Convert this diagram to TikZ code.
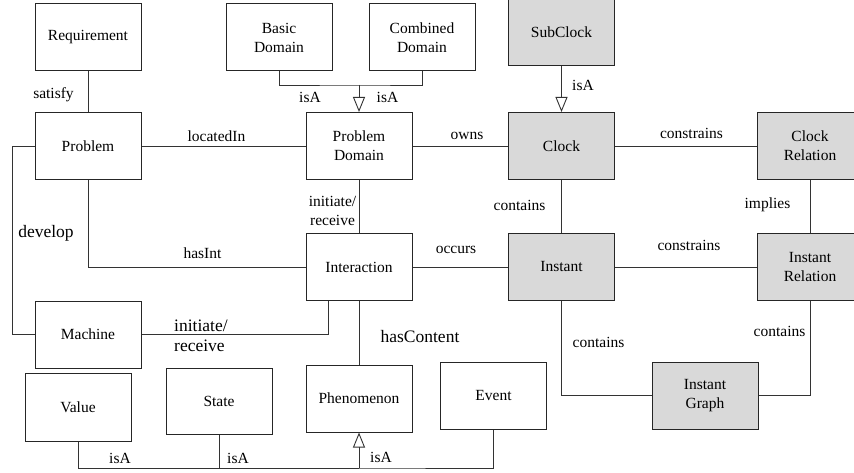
\documentclass[tikz,border=0pt]{standalone}
\usepackage{fontspec}
\setmainfont{Liberation Serif}
\usetikzlibrary{arrows.meta}
\definecolor{boxgray}{HTML}{D9D9D9}
\begin{document}
\begin{tikzpicture}[x=1pt,y=-1pt,
  every node/.style={font=\fontsize{15.5}{19}\selectfont},
  box/.style={draw=black!85,line width=1pt,minimum width=106pt,minimum height=67pt,inner sep=0pt,align=center,fill=white},
  gbox/.style={box,fill=boxgray},
  conn/.style={draw=black!80,line width=0.9pt},
  isa/.style={conn,-{Triangle[open,length=15pt,width=12pt]}},
  lbl/.style={inner sep=0pt,align=center},
  biglbl/.style={lbl,font=\fontsize{17.5}{20}\selectfont}]
\clip (0,0) rectangle (854,473);
\fill[white] (0,0) rectangle (854,473);
% boxes
\node[box] (Req) at (88,37.5) {Requirement};
\node[box] (Prob) at (88,146) {Problem};
\node[box] (Basic) at (279,37.5) {Basic\\Domain};
\node[box] (Comb) at (422,37.5) {Combined\\Domain};
\node[box] (PD) at (359,146) {Problem\\Domain};
\node[gbox] (Sub) at (561.5,32) {SubClock};
\node[gbox] (Clock) at (561.5,146) {Clock};
\node[gbox] (CRel) at (810,146) {Clock\\Relation};
\node[gbox] (Inst) at (561.5,267) {Instant};
\node[gbox] (IRel) at (810,267) {Instant\\Relation};
\node[gbox] (IGraph) at (705,395.5) {Instant\\Graph};
\node[box] (Inter) at (359,267) {Interaction};
\node[box] (Phen) at (359,398.5) {Phenomenon};
\node[box] (Event) at (493.5,395.5) {Event};
\node[box] (Mach) at (88,334.5) {Machine};
\node[box,minimum height=68pt] (Value) at (78,407) {Value};
\node[box,minimum height=66pt] (State) at (219,401) {State};
% junction points
\coordinate (jDev) at (12,146);
\coordinate (jMI) at (328,301);
\coordinate (jPD) at (359,85);
\coordinate (jPh) at (359,468);
% connectors
\draw[conn] (Req.south) -- (Prob.north);
\draw[conn] (Prob.east) -- (PD.west);
\draw[conn] (Prob.west) -- (jDev) |- (Mach.west);
\draw[conn] (Prob.south) |- (Inter.west);
\draw[conn] (Mach.east) -| (jMI);
\draw[conn] (PD.south) -- (Inter.north);
\draw[conn] (PD.east) -- (Clock.west);
\draw[conn] (Clock.east) -- (CRel.west);
\draw[conn] (Clock.south) -- (Inst.north);
\draw[conn] (CRel.south) -- (IRel.north);
\draw[conn] (Inter.east) -- (Inst.west);
\draw[conn] (Inst.east) -- (IRel.west);
\draw[conn] (Inst.south) |- (IGraph.west);
\draw[conn] (IRel.south) |- (IGraph.east);
\draw[conn] (Inter.south) -- (Phen.north);
\draw[conn] (Basic.south) |- (jPD) -| (Comb.south);
\draw[isa] (jPD) -- (PD.north);
\draw[isa] (Sub.south) -- (Clock.north);
\draw[conn] (Value.south) |- (jPh) -| (Event.south);
\draw[conn] (State.south) |- (jPh);
\draw[isa] (jPh) -- (Phen.south);
% labels
\node[lbl] (lSat) at (53.5,95) {satisfy};
\node[lbl] (lLoc) at (216.5,136) {locatedIn};
\node[biglbl] (lDev) at (46,233) {develop};
\node[lbl] (lHas) at (202.5,253) {hasInt};
\node[biglbl,anchor=west,align=left] (lMI) at (174,335.5) {initiate/\\receive};
\node[lbl] (lPDI) at (332.5,211) {initiate/\\receive};
\node[lbl] (lIsaB) at (310,97) {isA};
\node[lbl] (lIsaC) at (387.5,97) {isA};
\node[lbl] (lOwns) at (467,136) {owns};
\node[lbl] (lIsaS) at (583,85) {isA};
\node[lbl] (lCont1) at (519.5,205) {contains};
\node[lbl] (lCons1) at (691.5,133) {constrains};
\node[lbl] (lImp) at (767.5,205) {implies};
\node[lbl] (lOcc) at (456,250) {occurs};
\node[lbl] (lCons2) at (689,245) {constrains};
\node[lbl] (lCont2) at (598.5,342) {contains};
\node[lbl] (lCont3) at (779.5,331) {contains};
\node[biglbl] (lHC) at (420,337) {hasContent};
\node[lbl] (lIsaV) at (120,458) {isA};
\node[lbl] (lIsaSt) at (238,458) {isA};
\node[lbl] (lIsaP) at (381,457) {isA};
\end{tikzpicture}
\end{document}
